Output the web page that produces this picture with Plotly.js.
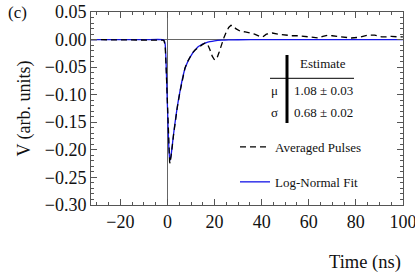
<!DOCTYPE html>
<html>
<head>
<meta charset="utf-8">
<script src="https://cdn.plot.ly/plotly-3.0.1.min.js"></script>
<style>html,body{margin:0;padding:0;background:#fff;}#chart{width:415px;height:275px;}</style>
</head>
<body>
<div id="chart"></div>
<script>
// Averaged pulse (dashed black)
const pulseTime = [-32.5, -20, -10, -3, -2, -1.5, -1.0, -0.5, 0, 0.5, 0.9, 1.1, 1.5, 2, 2.6, 3.2, 4.2, 5.3, 6.3, 7.4, 8.5, 9.6, 10.6, 11.7, 13, 14.5, 16, 17, 18, 19, 20, 21, 22, 23, 24, 25, 26, 27, 28, 29, 31, 33, 35, 37, 39, 40.5, 42, 44.5, 47, 50, 53, 56, 59, 62, 64, 66, 68, 70, 72.5, 75, 78, 81, 83, 85, 88, 91, 93, 95, 98, 100];
const pulseV = [0, 0, 0, 0, -0.001, -0.002, -0.010, -0.060, -0.130, -0.195, -0.222, -0.225, -0.215, -0.195, -0.172, -0.152, -0.122, -0.095, -0.072, -0.052, -0.040, -0.031, -0.024, -0.019, -0.014, -0.010, -0.006, -0.008, -0.018, -0.030, -0.037, -0.034, -0.022, -0.008, 0.004, 0.014, 0.022, 0.026, 0.025, 0.020, 0.015, 0.014, 0.012, 0.010, 0.006, 0.005, 0.010, 0.012, 0.010, 0.008, 0.007, 0.007, 0.005, 0.003, 0.003, 0.006, 0.008, 0.007, 0.006, 0.004, 0.003, 0.004, 0.006, 0.008, 0.008, 0.005, 0.005, 0.006, 0.005, 0.005];
// Log-normal fit (blue)
const fitTime = [-32.5, -10, -2, -1.5, -1.0, -0.5, 0, 0.5, 0.9, 1.1, 1.5, 2, 2.6, 3.2, 4.2, 5.3, 6.3, 7.4, 8.5, 9.6, 10.6, 11.7, 13, 14.5, 16, 18, 20, 23, 26, 30, 40, 60, 100];
const fitV = [0, 0, 0, -0.001, -0.008, -0.055, -0.125, -0.190, -0.216, -0.219, -0.211, -0.193, -0.171, -0.151, -0.121, -0.094, -0.072, -0.053, -0.041, -0.032, -0.025, -0.019, -0.013, -0.009, -0.0065, -0.0038, -0.0022, -0.0010, -0.0005, -0.0002, 0, 0, 0];
// Fit parameter table
const paramNames = ["μ", "σ"];
const paramEstimates = ["1.08 ± 0.03", "0.68 ± 0.02"];
const seriesNames = ["Averaged Pulses", "Log-Normal Fit"];

const serif = "Times New Roman, Liberation Serif, DejaVu Serif, serif";

const traces = [
  {x: fitTime, y: fitV, mode: "lines", name: seriesNames[1], legendgroup: "b", legendrank: 2,
   line: {color: "#1414e6", width: 1.3, shape: "spline", smoothing: 0.6}},
  {x: pulseTime, y: pulseV, mode: "lines", name: seriesNames[0], legendgroup: "a", legendrank: 1,
   line: {color: "#000", width: 1.3, dash: "6px,4px"}}
];

const px = x => (x - 91) / 312;
const py = y => (205 - y) / 193;

function note(text, x, y, size) {
  return {text: text, x: px(x), y: py(y), xref: "paper", yref: "paper", xanchor: "center", yanchor: "middle",
          showarrow: false, font: {family: serif, size: size, color: "#111"}};
}

const annotations = [
  note("(c)", 17, 12, 17),
  note("Time (ns)", 365, 262, 18.5),
  note("Estimate", 323, 64, 13)
];
paramNames.forEach((n, i) => {
  const yy = 90 + i * 22.7;
  annotations.push(note(n, 274, yy, 13));
  annotations.push(note(paramEstimates[i], 323, yy, 13));
});

const shapes = [
  {type: "line", xref: "paper", yref: "paper", x0: px(287), x1: px(287), y0: py(55), y1: py(123), line: {color: "#000", width: 3}},
  {type: "line", xref: "paper", yref: "paper", x0: px(270), x1: px(354), y0: py(78.3), y1: py(78.3), line: {color: "#000", width: 1}}
];

const axisCommon = {
  ticks: "inside", ticklen: 6, tickwidth: 1, tickcolor: "#555",
  showline: true, linecolor: "#555", linewidth: 1, mirror: "allticks",
  showgrid: false, zeroline: true, zerolinecolor: "#666", zerolinewidth: 1,
  ticklabeloverflow: "allow",
  tickfont: {family: serif, size: 18, color: "#111"}
};

const layout = {
  width: 415, height: 275,
  margin: {l: 91, r: 12, t: 12, b: 70},
  paper_bgcolor: "#fff", plot_bgcolor: "#fff",
  font: {family: serif},
  showlegend: true,
  legend: {x: px(235), y: py(132), xanchor: "left", yanchor: "top", bgcolor: "rgba(0,0,0,0)",
           font: {family: serif, size: 13, color: "#111"}, tracegroupgap: 15, traceorder: "grouped"},
  xaxis: Object.assign({}, axisCommon, {range: [-32.5, 100.05], tick0: 0, dtick: 20,
    minor: {dtick: 5, ticks: "inside", ticklen: 3, tickcolor: "#555", showgrid: false}}),
  yaxis: Object.assign({}, axisCommon, {range: [-0.3005, 0.0502], tick0: 0, dtick: 0.05, tickformat: ".2f",
    minor: {dtick: 0.01, ticks: "inside", ticklen: 3, tickcolor: "#555", showgrid: false},
    title: {text: "V (arb. units)", font: {family: serif, size: 18, color: "#111"}, standoff: 9}}),
  annotations: annotations,
  shapes: shapes
};

Plotly.newPlot("chart", traces, layout, {displayModeBar: false, staticPlot: true});
</script>
</body>
</html>
